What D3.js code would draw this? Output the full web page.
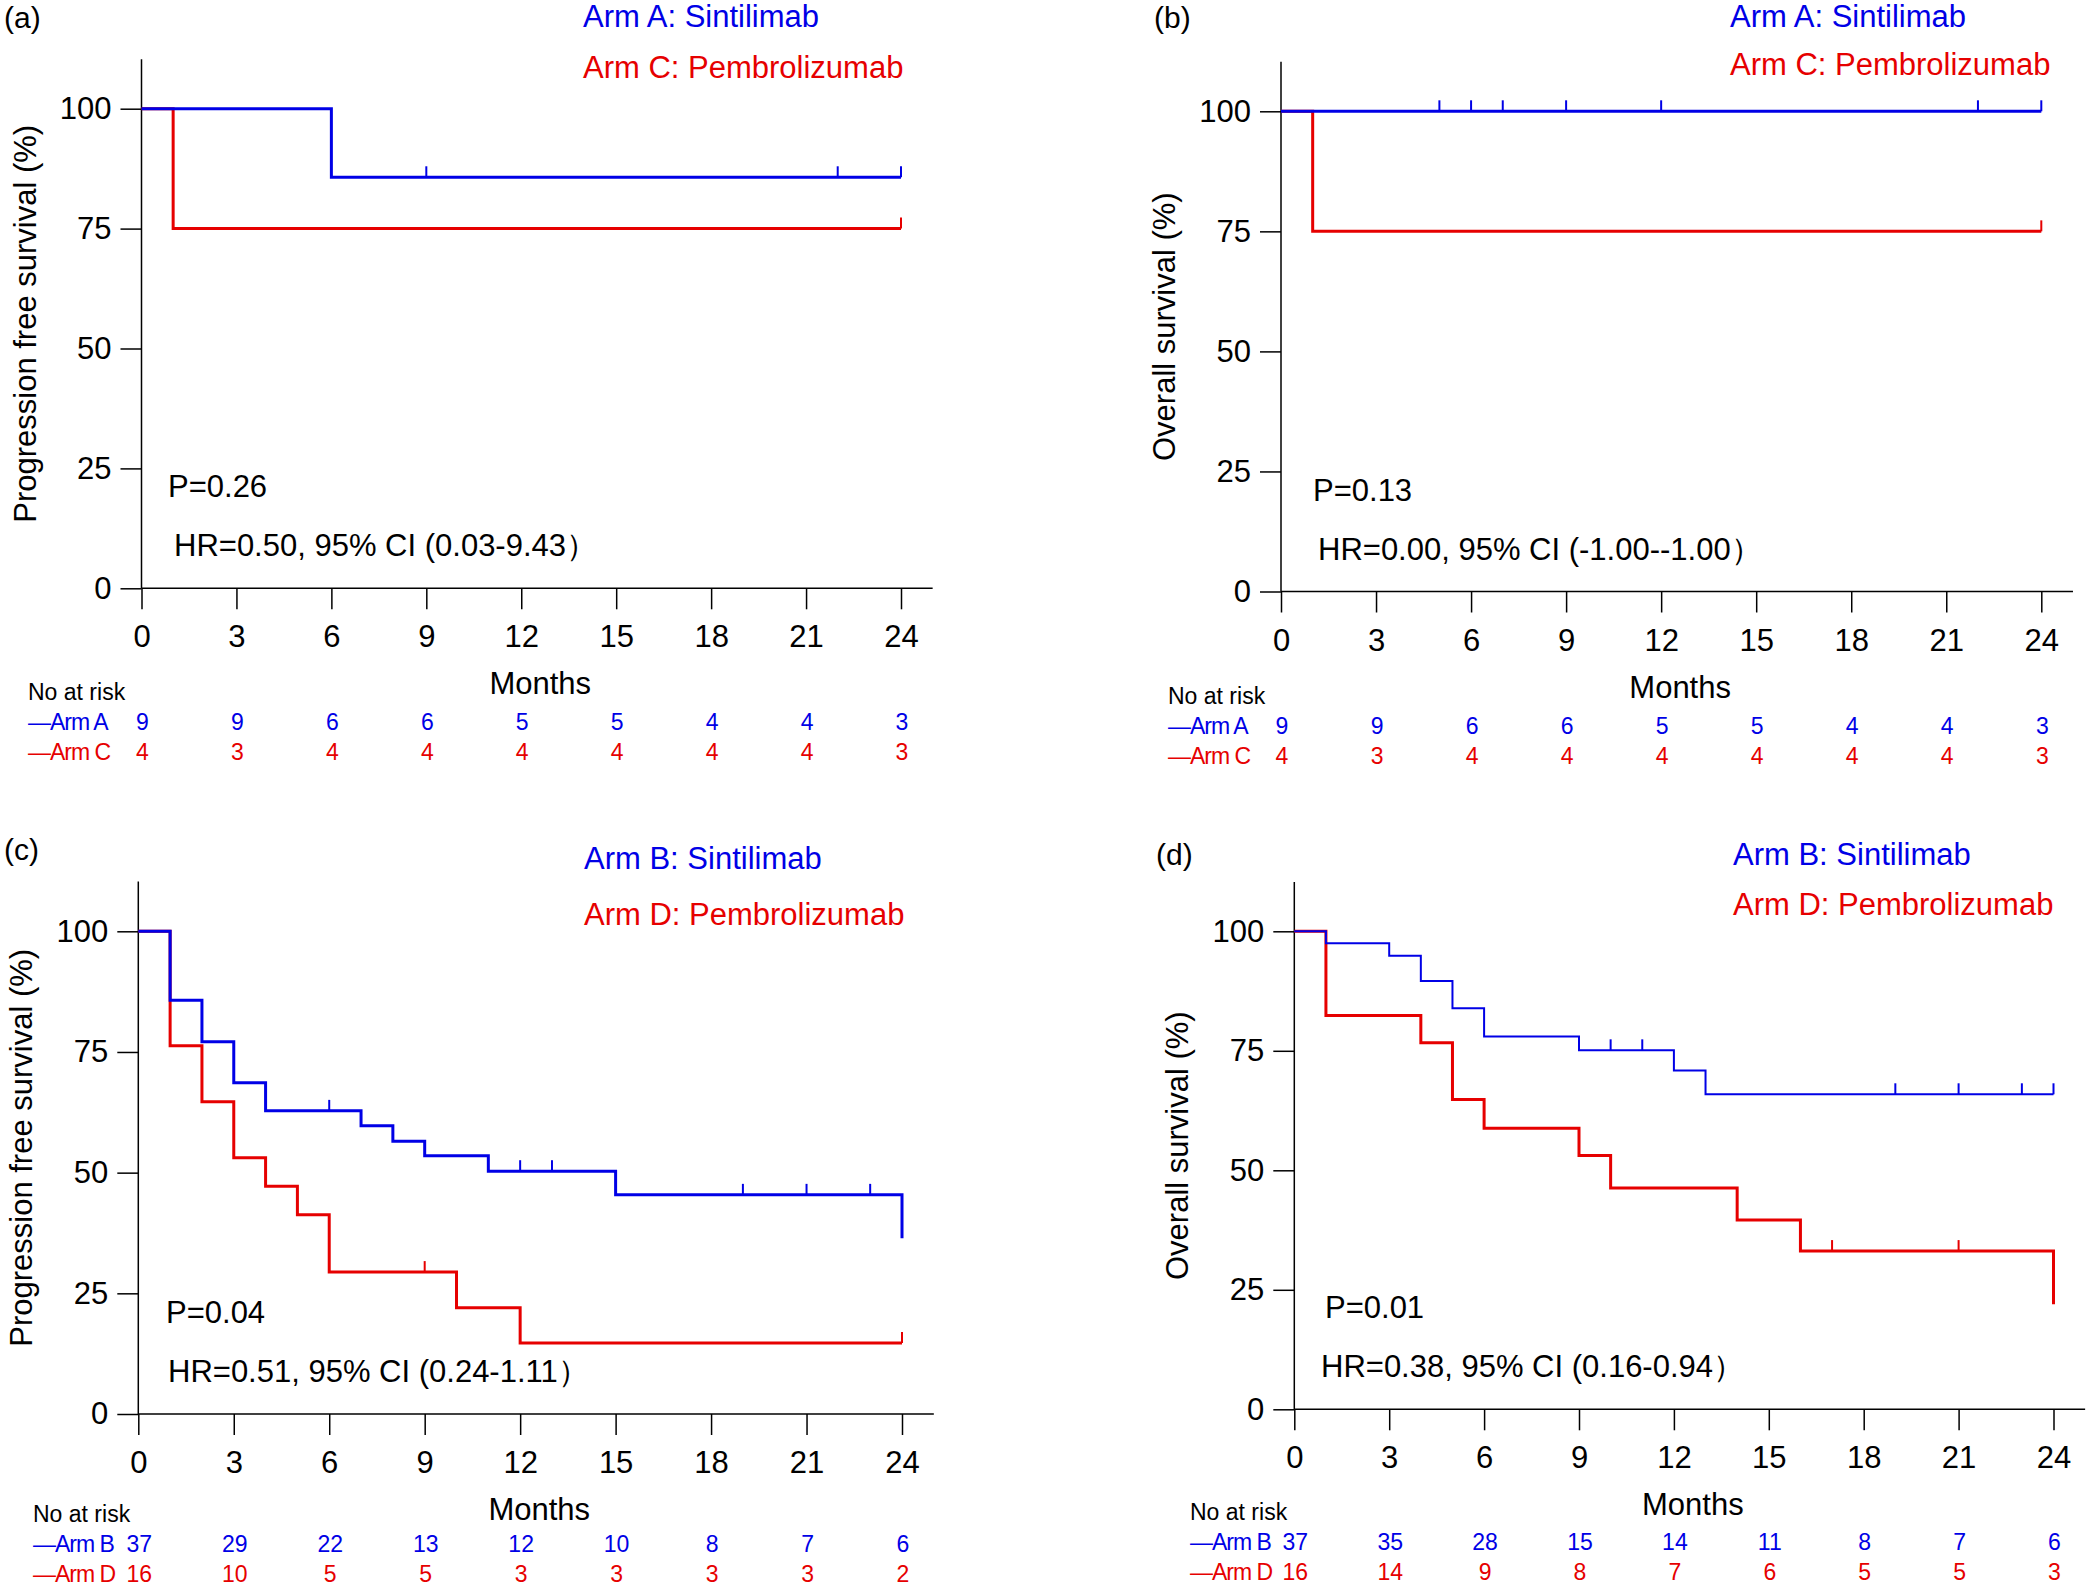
<!DOCTYPE html>
<html>
<head>
<meta charset="utf-8">
<script src="https://cdn.jsdelivr.net/npm/d3@7"></script>
<style>
  body { margin: 0; background: #fff; overflow: hidden; }
  svg { display: block; font-family: "Liberation Sans", Arial, sans-serif; }
</style>
</head>
<body>
<div id="chart"></div>
<script>
/* Kaplan-Meier curves, four panels */
var months = [0, 3, 6, 9, 12, 15, 18, 21, 24];
var pctTicks = [0, 25, 50, 75, 100];

// (a) progression free survival, Arm A vs Arm C
var pfsA_time = [0, 6];
var pfsA_surv = [100, 85.7];
var pfsA_cens = [9, 22, 24];
var pfsC_time = [0, 1];
var pfsC_surv = [100, 75];
var pfsC_cens = [24];

// (b) overall survival, Arm A vs Arm C
var osA_time = [0];
var osA_surv = [100];
var osA_cens = [5, 6, 7, 9, 12, 22, 24];
var osC_time = [0, 1];
var osC_surv = [100, 75];
var osC_cens = [24];

var riskA = [9, 9, 6, 6, 5, 5, 4, 4, 3];
var riskC = [4, 3, 4, 4, 4, 4, 4, 4, 3];

// (c) progression free survival, Arm B vs Arm D
var pfsB_time = [0, 1, 2, 3, 4, 7, 8, 9, 11, 15, 24];
var pfsB_surv = [100, 85.7, 77.1, 68.6, 62.8, 59.7, 56.5, 53.5, 50.3, 45.4, 36.4];
var pfsB_cens = [6, 12, 13, 19, 21, 23];
var pfsD_time = [0, 1, 2, 3, 4, 5, 6, 10, 12];
var pfsD_surv = [100, 76.3, 64.7, 53.1, 47.2, 41.3, 29.4, 22.0, 14.7];
var pfsD_cens = [9, 24];
var riskB_pfs = [37, 29, 22, 13, 12, 10, 8, 7, 6];
var riskD_pfs = [16, 10, 5, 5, 3, 3, 3, 3, 2];

// (d) overall survival, Arm B vs Arm D
var osB_time = [0, 1, 3, 4, 5, 6, 9, 12, 13];
var osB_surv = [100, 97.5, 94.9, 89.6, 83.9, 78.0, 75.1, 70.9, 65.9];
var osB_cens = [10, 11, 19, 21, 23, 24];
var osD_time = [0, 1, 4, 5, 6, 9, 10, 14, 16, 24];
var osD_surv = [100, 82.4, 76.7, 64.8, 58.8, 53.1, 46.3, 39.6, 33.1, 22.0];
var osD_cens = [17, 21];
var riskB_os = [37, 35, 28, 15, 14, 11, 8, 7, 6];
var riskD_os = [16, 14, 9, 8, 7, 6, 5, 5, 3];

var BLUE = "#0000e6", RED = "#e60000";

var panels = [
  {tag: "(a)", tagX: 4, tagY: 28, x0: 141.5, x24: 901, y0: 588.3, y100: 108.7,
   ytitle: "Progression free survival (%)", legX: 583, legY: [27, 78],
   legend: ["Arm A: Sintilimab", "Arm C: Pembrolizumab"], riskX: 28, riskDy: 112,
   p: "P=0.26", hr: "HR=0.50, 95% CI (0.03-9.43\uff09", pX: 168, hrX: 174,
   blue: {t: pfsA_time, s: pfsA_surv, c: pfsA_cens, w: 3},
   red: {t: pfsC_time, s: pfsC_surv, c: pfsC_cens, w: 3},
   rows: [["\u2014Arm A", riskA], ["\u2014Arm C", riskC]]},
  {tag: "(b)", tagX: 1154, tagY: 28, x0: 1281, x24: 2041.3, y0: 591.5, y100: 111.3,
   ytitle: "Overall survival (%)", legX: 1730, legY: [27, 75],
   legend: ["Arm A: Sintilimab", "Arm C: Pembrolizumab"], riskX: 1168, riskDy: 112,
   p: "P=0.13", hr: "HR=0.00, 95% CI (-1.00--1.00\uff09", pX: 1313, hrX: 1318,
   blue: {t: osA_time, s: osA_surv, c: osA_cens, w: 3},
   red: {t: osC_time, s: osC_surv, c: osC_cens, w: 3},
   rows: [["\u2014Arm A", riskA], ["\u2014Arm C", riskC]]},
  {tag: "(c)", tagX: 4, tagY: 860, x0: 138.3, x24: 902, y0: 1414, y100: 931.3,
   ytitle: "Progression free survival (%)", legX: 584, legY: [869, 925],
   legend: ["Arm B: Sintilimab", "Arm D: Pembrolizumab"], riskX: 33, riskDy: 108,
   p: "P=0.04", hr: "HR=0.51, 95% CI (0.24-1.11\uff09", pX: 166, hrX: 168,
   blue: {t: pfsB_time, s: pfsB_surv, c: pfsB_cens, w: 3},
   red: {t: pfsD_time, s: pfsD_surv, c: pfsD_cens, w: 3},
   rows: [["\u2014Arm B", riskB_pfs], ["\u2014Arm D", riskD_pfs]]},
  {tag: "(d)", tagX: 1156, tagY: 865, x0: 1294.3, x24: 2053.5, y0: 1409.3, y100: 931.3,
   ytitle: "Overall survival (%)", legX: 1733, legY: [865, 915],
   legend: ["Arm B: Sintilimab", "Arm D: Pembrolizumab"], riskX: 1190, riskDy: 111,
   p: "P=0.01", hr: "HR=0.38, 95% CI (0.16-0.94\uff09", pX: 1325, hrX: 1321,
   blue: {t: osB_time, s: osB_surv, c: osB_cens, w: 2},
   red: {t: osD_time, s: osD_surv, c: osD_cens, w: 3},
   rows: [["\u2014Arm B", riskB_os], ["\u2014Arm D", riskD_os]]}
];

var svg = d3.select("#chart").append("svg")
  .attr("width", 2089)
  .attr("height", 1587);

// survival value in effect at time t
function survAt(arm, t) {
  var v = arm.s[0];
  for (var i = 0; i < arm.t.length; i++) {
    if (arm.t[i] <= t) v = arm.s[i];
  }
  return v;
}

function drawPanel(p) {
  var x = d3.scaleLinear().domain([0, 24]).range([p.x0, p.x24]);
  var y = d3.scaleLinear().domain([0, 100]).range([p.y0, p.y100]);
  var g = svg.append("g");

  // axes
  var yAxis = g.append("g")
    .attr("transform", "translate(" + x(0) + ",0)")
    .call(d3.axisLeft(y).tickValues(pctTicks).tickSize(21).tickSizeOuter(0).tickPadding(9));
  var xAxis = g.append("g")
    .attr("transform", "translate(0," + y(0) + ")")
    .call(d3.axisBottom(x).tickValues(months).tickSize(21).tickSizeOuter(0).tickPadding(16));
  [xAxis, yAxis].forEach(function(a) {
    a.select(".domain").remove();
    a.selectAll("line").attr("stroke", "#000").attr("stroke-width", 1.5);
    a.selectAll("text").attr("fill", "#000").style("font-size", "31px")
      .style("font-family", "'Liberation Sans', Arial, sans-serif");
  });
  g.append("line")
    .attr("x1", x(0)).attr("x2", x(0))
    .attr("y1", y(0)).attr("y2", y(110.3))
    .attr("stroke", "#000").attr("stroke-width", 1.5);
  g.append("line")
    .attr("x1", x(0)).attr("x2", x(25))
    .attr("y1", y(0)).attr("y2", y(0))
    .attr("stroke", "#000").attr("stroke-width", 1.5);

  // titles
  g.append("text")
    .attr("transform", "translate(" + (x(0) - 106) + "," + ((y(0) + y(110.3)) / 2) + ") rotate(-90)")
    .attr("text-anchor", "middle")
    .style("font-size", "31px")
    .text(p.ytitle);
  g.append("text")
    .attr("x", x(12.6)).attr("y", y(0) + 106)
    .attr("text-anchor", "middle")
    .style("font-size", "31px")
    .text("Months");
  g.append("text")
    .attr("x", p.tagX).attr("y", p.tagY)
    .style("font-size", "30px")
    .text(p.tag);

  // legend
  g.selectAll(".leg").data(p.legend).enter().append("text")
    .attr("x", p.legX)
    .attr("y", function(d, i) { return p.legY[i]; })
    .attr("fill", function(d, i) { return i == 0 ? BLUE : RED; })
    .style("font-size", "31px")
    .text(function(d) { return d; });

  // P value and HR
  g.append("text").attr("x", p.pX).attr("y", y(0) - 91)
    .style("font-size", "31px").text(p.p);
  g.append("text").attr("x", p.hrX).attr("y", y(0) - 32)
    .style("font-size", "31px").text(p.hr);

  // curves, red first so blue sits on top
  var line = d3.line()
    .x(function(d) { return x(d[0]); })
    .y(function(d) { return y(d[1]); })
    .curve(d3.curveStepAfter);

  [[p.red, RED], [p.blue, BLUE]].forEach(function(pair) {
    var arm = pair[0], col = pair[1];
    var pts = arm.t.map(function(t, i) { return [t, arm.s[i]]; });
    if (arm.t[arm.t.length - 1] < 24) pts.push([24, arm.s[arm.s.length - 1]]);
    g.append("path")
      .attr("d", line(pts))
      .attr("fill", "none")
      .attr("stroke", col)
      .attr("stroke-width", arm.w);
    // censor marks
    g.selectAll(null).data(arm.c).enter().append("line")
      .attr("x1", function(d) { return x(d); })
      .attr("x2", function(d) { return x(d); })
      .attr("y1", function(d) { return y(survAt(arm, d)); })
      .attr("y2", function(d) { return y(survAt(arm, d)) - 11; })
      .attr("stroke", col)
      .attr("stroke-width", 2);
  });

  // number at risk table
  g.append("text")
    .attr("x", p.riskX).attr("y", y(0) + p.riskDy)
    .style("font-size", "23px")
    .text("No at risk");
  p.rows.forEach(function(row, r) {
    var col = r == 0 ? BLUE : RED;
    var by = y(0) + p.riskDy + 30 + r * 30;
    g.append("text")
      .attr("x", p.riskX).attr("y", by)
      .attr("fill", col)
      .style("font-size", "23px")
      .style("letter-spacing", "-1px")
      .text(row[0]);
    g.selectAll(null).data(row[1]).enter().append("text")
      .attr("x", function(d, i) { return x(months[i]) + 1; })
      .attr("y", by)
      .attr("text-anchor", "middle")
      .attr("fill", col)
      .style("font-size", "23px")
      .text(function(d) { return d; });
  });
}

panels.forEach(drawPanel);
</script>
</body>
</html>
